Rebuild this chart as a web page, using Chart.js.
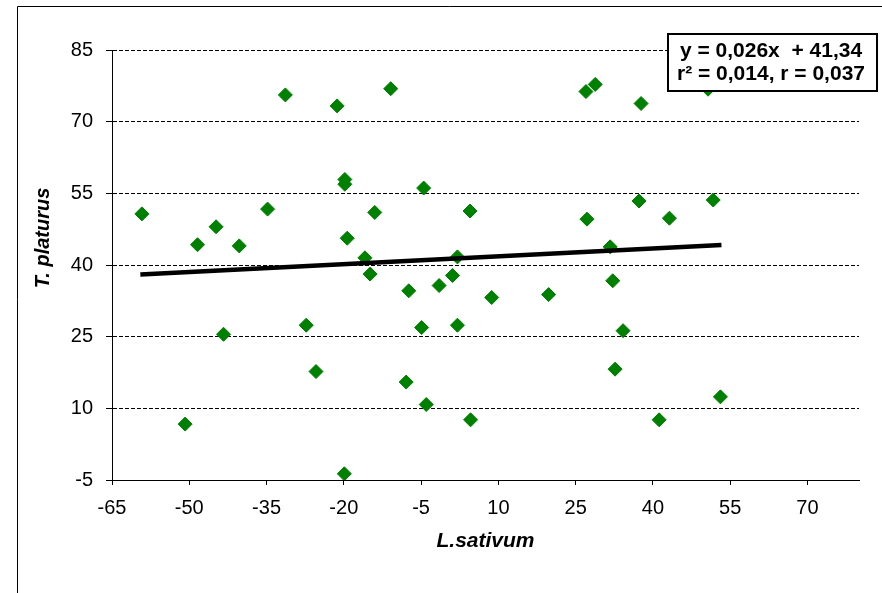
<!DOCTYPE html>
<html>
<head>
<meta charset="utf-8">
<script src="https://cdn.jsdelivr.net/npm/chart.js@4.4.0/dist/chart.umd.min.js"></script>
<style>
  html, body { margin: 0; padding: 0; background: #fff; }
  #wrap { width: 882px; height: 593px; }
</style>
</head>
<body>
<div id="wrap"><canvas id="chart_scatter" width="882" height="593"></canvas></div>
<script>
// ----------------------- data -----------------------

const lsativum = [
    -59.2, -50.8, -48.4, -44.8, -43.35, -40.3, -34.8, -31.35, -27.3, -25.4,
    -21.3, -19.8, -19.8, -19.35, -19.9, -15.9, -14.9, -14.0, -10.9, -7.4,
    -7.9, -4.9, -4.5, -4.0, -1.5, 1.1, 2.05, 2.05, 4.6, 4.5,
    8.7, 19.75, 27.0, 28.8, 27.2, 31.7, 32.2, 32.65, 34.2, 37.7,
    37.3, 43.2, 41.2, 50.7, 51.7, 53.1
];
const tplaturus = [
    50.7, 6.7, 44.25, 48.0, 25.5, 44.0, 51.7, 75.6, 27.4, 17.7,
    73.3, 57.9, 56.9, 45.6, -3.7, 41.5, 38.1, 51.0, 76.9, 34.6,
    15.5, 26.9, 56.1, 10.8, 35.7, 37.8, 41.7, 27.4, 7.6, 51.3,
    33.2, 33.8, 76.3, 77.8, 49.6, 43.8, 36.7, 18.2, 26.25, 73.8,
    53.4, 49.8, 7.6, 76.8, 53.6, 12.4
];

// trend line ends
const trendX = [-59.5, 53.3];
const trendY = [38.0, 44.2];

const xTicks = [-65, -50, -35, -20, -5, 10, 25, 40, 55, 70];
const yTicks = [-5, 10, 25, 40, 55, 70, 85];

const xTitle = "L.sativum";
const yTitle = "T. platurus";
const eqLines = ["y = 0,026x  + 41,34", "r\u00B2 = 0,014, r = 0,037"];

const FONT = "Arial, 'Liberation Sans', sans-serif";

// ----------------------- plugins -----------------------

const framePlugin = {
    id: "frame",
    beforeDraw(chart) {
        const ctx = chart.ctx;
        ctx.save();
        ctx.fillStyle = "#fff";
        ctx.fillRect(0, 0, chart.width, chart.height);
        ctx.strokeStyle = "#000";
        ctx.lineWidth = 1;
        ctx.beginPath();
        ctx.moveTo(17.5, chart.height);
        ctx.lineTo(17.5, 6.5);
        ctx.lineTo(chart.width, 6.5);
        ctx.stroke();
        ctx.restore();
    },
    afterDraw(chart) {
        const ctx = chart.ctx;
        ctx.save();

        // y axis title
        ctx.translate(43, 238);
        ctx.rotate(-Math.PI / 2);
        ctx.fillStyle = "#000";
        ctx.font = "italic bold 20px " + FONT;
        ctx.textAlign = "center";
        ctx.textBaseline = "middle";
        ctx.fillText(yTitle, 0, 0);
        ctx.setTransform(1, 0, 0, 1, 0, 0);

        // equation box
        ctx.fillStyle = "#fff";
        ctx.fillRect(668, 34, 209, 57);
        ctx.strokeStyle = "#000";
        ctx.lineWidth = 2;
        ctx.strokeRect(668, 34, 209, 57);
        ctx.fillStyle = "#000";
        ctx.font = "bold 21px " + FONT;
        ctx.textAlign = "center";
        ctx.textBaseline = "alphabetic";
        ctx.fillText(eqLines[0], 771, 57);
        ctx.fillText(eqLines[1], 771, 80);
        ctx.restore();
    }
};

// ----------------------- chart -----------------------

const points = lsativum.map((x, i) => ({ x: x, y: tplaturus[i] }));
const trend = trendX.map((x, i) => ({ x: x, y: trendY[i] }));

new Chart(document.getElementById("chart_scatter"), {
    type: "scatter",
    data: {
        datasets: [
            {
                type: "line",
                data: trend,
                borderColor: "#000",
                borderWidth: 4.5,
                pointRadius: 0,
                fill: false,
            },
            {
                data: points,
                pointStyle: "rectRot",
                pointRadius: 7,
                pointBackgroundColor: "#008000",
                pointBorderColor: "#008000",
                pointBorderWidth: 1,
            }
        ]
    },
    options: {
        responsive: false,
        animation: false,
        layout: { padding: { top: 50, right: 23, left: 0, bottom: 0 } },
        plugins: {
            legend: { display: false },
            tooltip: { enabled: false }
        },
        scales: {
            x: {
                type: "linear",
                min: -65,
                max: 80,
                afterBuildTicks: s => { s.ticks = xTicks.map(v => ({ value: v })); },
                afterFit: s => { s.height = 113; },
                grid: { drawOnChartArea: false, drawTicks: true, tickLength: 5, color: "#000", tickColor: "#000" },
                border: { display: true, color: "#000", width: 1 },
                ticks: { color: "#000", font: { family: FONT, size: 20 }, padding: 11, maxRotation: 0, autoSkip: false },
                title: {
                    display: true,
                    text: xTitle,
                    color: "#000",
                    font: { family: FONT, size: 21, weight: "bold", style: "italic" },
                    padding: { top: 0, bottom: 39 }
                }
            },
            y: {
                type: "linear",
                min: -5,
                max: 85,
                afterBuildTicks: s => { s.ticks = yTicks.map(v => ({ value: v })); },
                afterFit: s => { s.width = 112; },
                grid: { color: "#000", lineWidth: 1, tickLength: 6, tickColor: "#000" },
                border: { display: true, color: "#000", width: 1, dash: [4, 2] },
                ticks: { color: "#000", font: { family: FONT, size: 20 }, padding: 13 }
            }
        }
    },
    plugins: [framePlugin]
});
</script>
</body>
</html>
